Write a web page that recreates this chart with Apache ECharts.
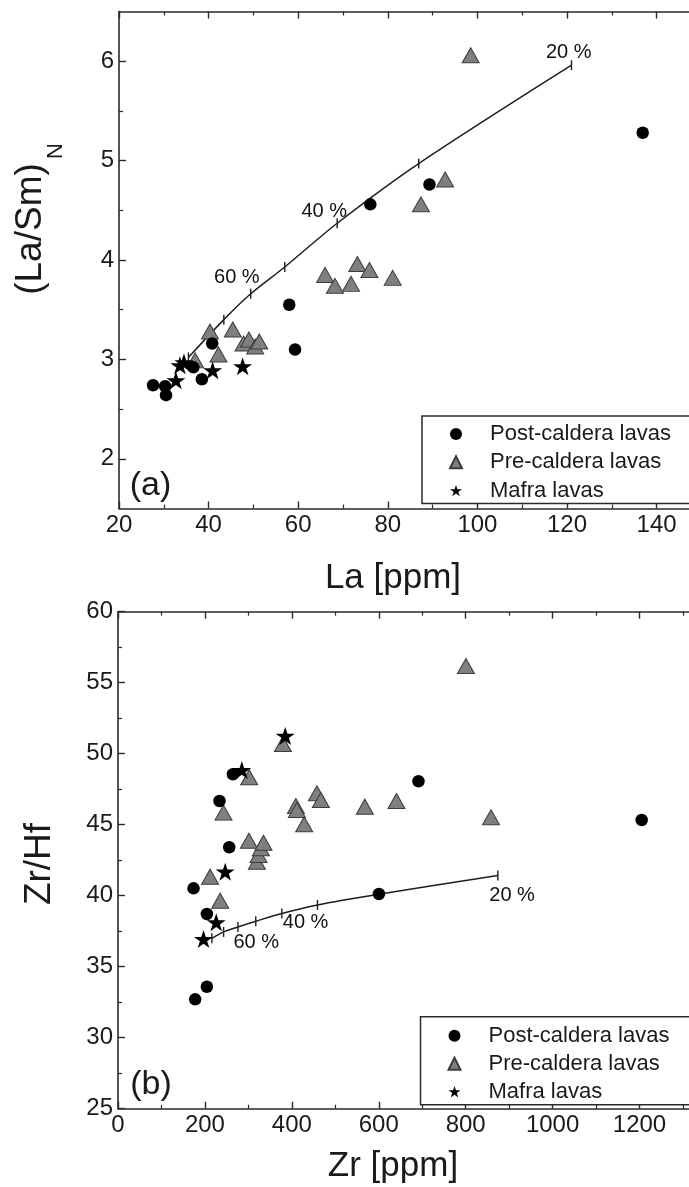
<!DOCTYPE html>
<html><head><meta charset="utf-8">
<script src="https://cdn.jsdelivr.net/npm/echarts@6/dist/echarts.min.js"></script>
<style>html,body{margin:0;padding:0;background:#fff}#c{width:689px;height:1187px}</style>
</head><body><div id="c"></div>
<script>
// ---------- Panel (a): La vs (La/Sm)N ----------
const postLa   = [27.6, 30.3, 30.5, 36.6, 38.5, 40.8, 58.0, 59.3, 76.1, 89.3, 136.9];
const postLaSm = [2.74, 2.73, 2.64, 2.92, 2.80, 3.16, 3.55, 3.10, 4.56, 4.76, 5.28];
const preLa    = [37.0, 40.3, 42.2, 45.4, 47.8, 49.0, 50.4, 51.3, 66.0, 68.2, 71.8, 73.2, 75.9, 81.1, 87.4, 92.8, 98.5];
const preLaSm  = [2.99, 3.28, 3.05, 3.30, 3.16, 3.20, 3.13, 3.18, 3.85, 3.74, 3.76, 3.96, 3.90, 3.82, 4.56, 4.81, 6.06];
const mafraLa   = [32.7, 33.6, 34.5, 40.9, 47.6];
const mafraLaSm = [2.79, 2.94, 2.97, 2.89, 2.93];
const mixLa   = [35.5, 43.4, 49.4, 57.0, 68.7, 86.9, 121.0];
const mixLaSm = [3.02, 3.40, 3.66, 3.93, 4.37, 4.97, 5.96];
const mixLabelsA = ['60 %', '40 %', '20 %'];
const mixLabelAX = [46.3, 65.8, 120.4];
const mixLabelAY = [3.82, 4.49, 6.09];
const xTicksA = [20, 40, 60, 80, 100, 120, 140];
const xMinorA = [30, 50, 70, 90, 110, 130];
const yTicksA = [2, 3, 4, 5, 6];
const yMinorA = [2.5, 3.5, 4.5, 5.5];

// ---------- Panel (b): Zr vs Zr/Hf ----------
const postZr   = [173.8, 177.6, 204.5, 204.5, 233.6, 255.9, 264.4, 600.4, 691.4, 1205];
const postZrHf = [40.52, 32.7, 33.59, 38.71, 46.67, 43.41, 48.55, 40.12, 48.06, 45.33];
const preZr    = [212, 235.2, 242.8, 301.9, 301.2, 319.6, 323.3, 328.8, 334.8, 379.4, 409.3, 411.6, 428.4, 457.6, 466.8, 568, 640.8, 800.6, 858.3];
const preZrHf  = [41.34, 39.65, 45.85, 48.34, 43.87, 42.39, 42.87, 43.34, 43.73, 50.68, 46.32, 46.04, 45.03, 47.21, 46.74, 46.27, 46.67, 56.18, 45.52];
const mafraZr   = [196.8, 226, 246.7, 285, 384.8];
const mafraZrHf = [36.95, 38.13, 41.69, 48.85, 51.25];
const mixZr   = [216, 243, 276, 317, 377, 459, 600, 874];
const mixZrHf = [37.0, 37.45, 37.8, 38.2, 38.75, 39.35, 40.1, 41.42];
const mixLabelsB = ['60 %', '40 %', '20 %'];
const mixLabelBX = [318, 431.7, 906.8];
const mixLabelBY = [36.7, 38.1, 40.05];
const xTicksB = [0, 200, 400, 600, 800, 1000, 1200];
const xMinorB = [100, 300, 500, 700, 900, 1100, 1300];
const yTicksB = [25, 30, 35, 40, 45, 50, 55, 60];
const yMinorB = [27.5, 32.5, 37.5, 42.5, 47.5, 52.5, 57.5];

const seriesNames = ['Post-caldera lavas', 'Pre-caldera lavas', 'Mafra lavas'];

// ---------- styling ----------
const FONT = '"Liberation Sans", Arial, Helvetica, sans-serif';
const AX = '#2a2a2a';
const TXT = '#1a1a1a';
const STAR = 'path://M50,0L61.23,34.55L97.55,34.55L68.16,55.9L79.39,90.45L50,69.1L20.61,90.45L31.84,55.9L2.45,34.55L38.77,34.55Z';
const zip = (a, b) => a.map((v, i) => [v, b[i]]);

function makeAxes(gridIndex, min, max, majors, minors, sides) {
  const out = [];
  sides.forEach((pos, i) => {
    out.push({
      gridIndex, type: 'value', position: pos, min, max,
      axisLine: { show: true, onZero: false, lineStyle: { color: AX, width: 1.6 } },
      axisTick: { show: true, inside: true, length: 7, customValues: majors, lineStyle: { color: AX, width: 1.4 } },
      axisLabel: { show: i === 0, customValues: majors, formatter: v => String(v), fontFamily: FONT, fontSize: 24, color: TXT, margin: 5 },
      splitLine: { show: false }
    });
    out.push({
      gridIndex, type: 'value', position: pos, min, max,
      axisLine: { show: false, onZero: false },
      axisTick: { show: true, inside: true, length: 4, customValues: minors, lineStyle: { color: AX, width: 1.2 } },
      axisLabel: { show: false },
      splitLine: { show: false }
    });
  });
  return out;
}

const xAxes = [].concat(
  makeAxes(0, 20, 150, xTicksA, xMinorA, ['bottom', 'top']),
  makeAxes(1, 0, 1350, xTicksB, xMinorB, ['bottom', 'top'])
);
const yAxes = [].concat(
  makeAxes(0, 1.5, 6.5, yTicksA, yMinorA, ['left', 'right']),
  makeAxes(1, 25, 60, yTicksB, yMinorB, ['left', 'right'])
);

function panelSeries(ax, post, pre, mafra, mix, labels) {
  return [
    { type: 'line', name: 'mix' + ax, xAxisIndex: ax, yAxisIndex: ax, data: mix, smooth: 0.3,
      symbol: 'rect', symbolSize: [1.4, 10], showSymbol: true, silent: true,
      itemStyle: { color: '#1e1e1e' }, lineStyle: { color: '#1e1e1e', width: 1.5 }, z: 2 },
    { type: 'scatter', name: 'mixlabels' + ax, xAxisIndex: ax, yAxisIndex: ax, data: labels.pos,
      symbolSize: 0, silent: true, itemStyle: { color: '#1e1e1e', opacity: 1 },
      label: { show: true, position: [0, 0], align: 'center', verticalAlign: 'middle',
               formatter: p => labels.text[p.dataIndex], opacity: 1,
               fontFamily: FONT, fontSize: 20, color: '#111', textBorderWidth: 0 }, z: 3 },
    { type: 'scatter', name: seriesNames[1], xAxisIndex: ax, yAxisIndex: ax, data: pre,
      symbol: 'triangle', symbolSize: [17, 15],
      itemStyle: { color: '#7f7f7f', borderColor: '#3c3c3c', borderWidth: 1, opacity: 1 }, z: 4 },
    { type: 'scatter', name: seriesNames[0], xAxisIndex: ax, yAxisIndex: ax, data: post,
      symbol: 'circle', symbolSize: 12.5, itemStyle: { color: '#000', opacity: 1 }, z: 5 },
    { type: 'scatter', name: seriesNames[2], xAxisIndex: ax, yAxisIndex: ax, data: mafra,
      symbol: STAR, symbolSize: [19, 18], itemStyle: { color: '#000', opacity: 1 }, z: 6 }
  ];
}

const series = [].concat(
  panelSeries(0, zip(postLa, postLaSm), zip(preLa, preLaSm), zip(mafraLa, mafraLaSm), zip(mixLa, mixLaSm),
    { pos: zip(mixLabelAX, mixLabelAY), text: mixLabelsA }),
  panelSeries(4, zip(postZr, postZrHf), zip(preZr, preZrHf), zip(mafraZr, mafraZrHf), zip(mixZr, mixZrHf),
    { pos: zip(mixLabelBX, mixLabelBY), text: mixLabelsB })
);

const legendData = [
  { name: seriesNames[0], icon: 'circle', itemStyle: { color: '#000' } },
  { name: seriesNames[1], icon: 'triangle' },
  { name: seriesNames[2], icon: STAR }
];
function makeLegend(left, top, padTop, padBottom, gap) {
  return {
    orient: 'vertical', left, top, data: legendData, selectedMode: false,
    itemWidth: 12, itemHeight: 12, itemGap: gap,
    padding: [padTop, 40, padBottom, 27],
    borderColor: AX, borderWidth: 1.5, backgroundColor: '#fff',
    textStyle: { fontFamily: FONT, fontSize: 22, color: TXT, lineHeight: 24, padding: [0, 0, 0, 23] }
  };
}

function txt(x, y, text, size, rot) {
  return { type: 'text', x, y, rotation: rot || 0, z: 100,
    style: { text, font: size + 'px ' + FONT, fill: TXT,
             textAlign: 'center', textVerticalAlign: 'middle', align: 'center', verticalAlign: 'middle' } };
}

const option = {
  animation: false,
  backgroundColor: '#fff',
  grid: [
    { left: 119, top: 11.5, width: 582.4, height: 497, outerBoundsMode: 'none' },
    { left: 118, top: 611.7, width: 586.7, height: 497, outerBoundsMode: 'none' }
  ],
  xAxis: xAxes,
  yAxis: yAxes,
  legend: [makeLegend(422, 416, 6, 1, 4.3), makeLegend(420.5, 1016.7, 7, 1, 4)],
  series,
  graphic: [
    txt(31, 229, '(La/Sm)', 37, Math.PI / 2),
    txt(56, 151, 'N', 22, Math.PI / 2),
    txt(393, 578, 'La [ppm]', 35),
    txt(40, 864, 'Zr/Hf', 37, Math.PI / 2),
    txt(393, 1166, 'Zr [ppm]', 35),
    txt(150.5, 486, '(a)', 34),
    txt(151, 1085, '(b)', 34)
  ]
};

const chart = echarts.init(document.getElementById('c'), null, { renderer: 'canvas' });
chart.setOption(option);
</script></body></html>
